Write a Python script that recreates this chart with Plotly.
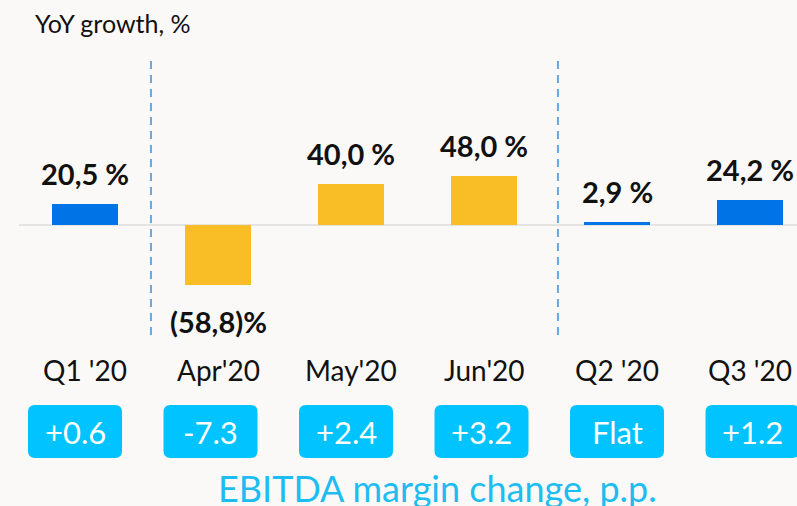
import plotly.graph_objects as go

categories = ["Q1 '20", "Apr'20", "May'20", "Jun'20", "Q2 '20", "Q3 '20"]
yoy_growth = [20.5, -58.8, 40.0, 48.0, 2.9, 24.2]
value_labels = ["20,5 %", "(58,8)%", "40,0 %", "48,0 %", "2,9 %", "24,2 %"]
margin_change = ["+0.6", "-7.3", "+2.4", "+3.2", "Flat", "+1.2"]
is_month = [False, True, True, True, False, False]

BG = "#faf9f7"
BLUE = "#0073e6"
YELLOW = "#f9bd25"
CYAN = "#00c3ff"
FONT = "Lato"

xs = list(range(len(categories)))
fig = go.Figure()
fig.add_trace(go.Bar(
    x=xs, y=yoy_growth, width=0.5,
    marker=dict(color=[YELLOW if m else BLUE for m in is_month], line=dict(width=0)),
    hoverinfo="skip", showlegend=False,
))

annotations = []
shapes = []

# value labels over / under the bars
for x, v, lab in zip(xs, yoy_growth, value_labels):
    annotations.append(dict(
        x=x, y=v, xref="x", yref="y", text=lab, showarrow=False,
        yanchor="middle", yshift=31 if v >= 0 else -37,
        font=dict(family=FONT, size=29, color="#111111", weight="bold"),
    ))

# category labels
for x, c in zip(xs, categories):
    annotations.append(dict(
        x=x, y=1 - 370 / 506, xref="paper" if False else "x", yref="paper", text=c,
        showarrow=False, yanchor="middle",
        font=dict(family=FONT, size=28, color="#111111"),
    ))

# rounded boxes with EBITDA margin change
hw, rx, ry = 47 / 133, 7 / 133, 7 / 506
y0, y1 = 1 - 458 / 506, 1 - 405 / 506
for x, t in zip(xs, margin_change):
    cx = (-10 + 135.5 * x) / 133
    l, r = cx - hw, cx + hw
    path = (f"M {l + rx},{y0} L {r - rx},{y0} Q {r},{y0} {r},{y0 + ry} "
            f"L {r},{y1 - ry} Q {r},{y1} {r - rx},{y1} L {l + rx},{y1} "
            f"Q {l},{y1} {l},{y1 - ry} L {l},{y0 + ry} Q {l},{y0} {l + rx},{y0} Z")
    shapes.append(dict(type="path", path=path, xref="x", yref="paper",
                       fillcolor=CYAN, line=dict(width=0), layer="below"))
    annotations.append(dict(
        x=cx, y=(y0 + y1) / 2, xref="x", yref="paper", text=t, showarrow=False,
        yanchor="middle", font=dict(family=FONT, size=31, color="white"),
    ))

# zero line
shapes.append(dict(type="line", xref="paper", yref="y", x0=19 / 797, x1=1, y0=0, y1=0,
                   line=dict(color="#dddddd", width=1.5), layer="below"))

# dashed separators
for xv in [0.496, 3.556]:
    shapes.append(dict(type="line", xref="x", yref="paper", x0=xv, x1=xv,
                       y0=1 - 335 / 506, y1=1 - 57 / 506,
                       line=dict(color="#6aa6dc", width=2, dash="8px,6px")))

annotations.append(dict(
    x=33 / 797, y=1 - 23 / 506, xref="paper", yref="paper", text="YoY growth, %",
    showarrow=False, xanchor="left", yanchor="middle",
    font=dict(family=FONT, size=25, color="#111111"),
))
annotations.append(dict(
    x=437 / 797, y=1 - 488 / 506, xref="paper", yref="paper",
    text="EBITDA margin change, p.p.", showarrow=False, yanchor="middle",
    font=dict(family=FONT, size=36, color="#1dbdf2"),
))

fig.update_layout(
    width=797, height=506,
    margin=dict(l=0, r=0, t=0, b=0),
    paper_bgcolor=BG, plot_bgcolor=BG,
    xaxis=dict(range=[-85 / 133, 712 / 133], visible=False, fixedrange=True),
    yaxis=dict(range=[-281 / 1.02, 225 / 1.02], visible=False, fixedrange=True),
    annotations=annotations, shapes=shapes,
    bargap=0,
)

fig.write_html("out.html", config={"displayModeBar": False},
               post_script="document.body.style.margin='0';document.body.style.overflow='hidden';")
